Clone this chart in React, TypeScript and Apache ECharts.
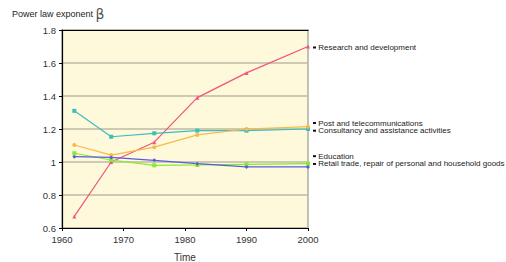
import React, { useEffect, useRef } from "react";
import * as echarts from "echarts";

const years = [1962, 1968, 1975, 1982, 1990, 2000];
const researchDev = [0.67, 1.0, 1.12, 1.39, 1.54, 1.7];
const postTelecom = [1.31, 1.153, 1.174, 1.19, 1.19, 1.2];
const consultancy = [1.103, 1.042, 1.09, 1.164, 1.2, 1.214];
const education = [1.053, 1.012, 0.98, 0.982, 0.986, 0.99];
const retail = [1.032, 1.028, 1.01, 0.99, 0.97, 0.97];
const xTicks = [1960, 1970, 1980, 1990, 2000];
const yTicks = [0.6, 0.8, 1, 1.2, 1.4, 1.6, 1.8];

const seriesDefs = [
  { name: "Research and development", data: researchDev, color: "#f2527e", symbol: "triangle", dy: 1 },
  { name: "Post and telecommunications", data: postTelecom, color: "#3fbdbd", symbol: "rect", dy: -6 },
  { name: "Consultancy and assistance activities", data: consultancy, color: "#f9b946", symbol: "circle", dy: 4 },
  { name: "Education", data: education, color: "#82ec2e", symbol: "rect", dy: -7.5 },
  { name: "Retail trade, repair of personal and household goods", data: retail, color: "#5a5ae0", symbol: "diamond", dy: -3 },
];

export default function App() {
  const ref = useRef<HTMLDivElement>(null);
  useEffect(() => {
    document.body.style.margin = "0";
    const chart = echarts.init(ref.current!, null, { renderer: "svg" });
    const font = "Liberation Sans, Arial, sans-serif";
    chart.setOption({
      animation: false,
      textStyle: { fontFamily: font },
      title: {
        text: "{a|Power law exponent }{b|β}",
        left: 7,
        top: 2,
        textStyle: {
          fontWeight: "normal",
          rich: {
            a: { fontSize: 9, color: "#222", fontFamily: font, fontWeight: "normal" },
            b: { fontSize: 14, color: "#555", fontFamily: "DejaVu Sans", fontWeight: "normal" },
          },
        },
      },
      grid: {
        left: 62,
        top: 30,
        width: 246,
        height: 198,
        outerBoundsMode: "none",
        containLabel: false,
        show: true,
        backgroundColor: "#fdf9da",
        borderColor: "#b0ae9e",
        borderWidth: 1.5,
      },
      xAxis: [
        {
          type: "value",
          min: xTicks[0],
          max: xTicks[xTicks.length - 1],
          interval: 10,
          name: "Time",
          nameLocation: "middle",
          nameGap: 24,
          nameTextStyle: { fontSize: 10, color: "#333", fontFamily: font },
          axisLine: { lineStyle: { color: "#000", width: 1.2 } },
          axisTick: { length: 3, lineStyle: { color: "#000" } },
          axisLabel: {
            fontSize: 9.5,
            color: "#333",
            margin: 6,
            fontFamily: font,
            formatter: (v: number) => String(v),
          },
          splitLine: { show: false },
        },
        {
          type: "value",
          position: "top",
          min: xTicks[0],
          max: xTicks[xTicks.length - 1],
          axisLine: { show: true, lineStyle: { color: "#000", width: 1.2 } },
          axisTick: { show: false },
          axisLabel: { show: false },
          splitLine: { show: false },
        },
      ],
      yAxis: {
        type: "value",
        min: yTicks[0],
        max: yTicks[yTicks.length - 1],
        interval: 0.2,
        axisLine: { show: true, lineStyle: { color: "#000", width: 1.2 } },
        axisTick: { show: true, length: 3, lineStyle: { color: "#000" } },
        axisLabel: {
          fontSize: 9.5,
          color: "#333",
          margin: 6,
          fontFamily: font,
          formatter: (v: number) => String(parseFloat(v.toFixed(1))),
        },
        splitLine: { show: true, lineStyle: { color: "#bdb9a6", width: 1.5 } },
      },
      series: seriesDefs.map((s) => ({
        name: s.name,
        type: "line",
        data: years.map((y, i) => [y, s.data[i]]),
        symbol: s.symbol,
        symbolSize: 4,
        lineStyle: { color: s.color, width: 1.2 },
        itemStyle: { color: s.color },
        labelLayout: { hideOverlap: false },
        endLabel: {
          show: true,
          distance: 5,
          offset: [0, s.dy],
          formatter: "{d|} {t|" + s.name + "}",
          fontSize: 8,
          lineHeight: 7,
          color: "#222",
          fontFamily: font,
          rich: {
            d: { width: 3, height: 2, backgroundColor: "#111" },
            t: { fontSize: 8, lineHeight: 7, color: "#222", fontFamily: font },
          },
        },
      })),
    });
    return () => chart.dispose();
  }, []);
  return <div ref={ref} style={{ width: 506, height: 262 }} />;
}
